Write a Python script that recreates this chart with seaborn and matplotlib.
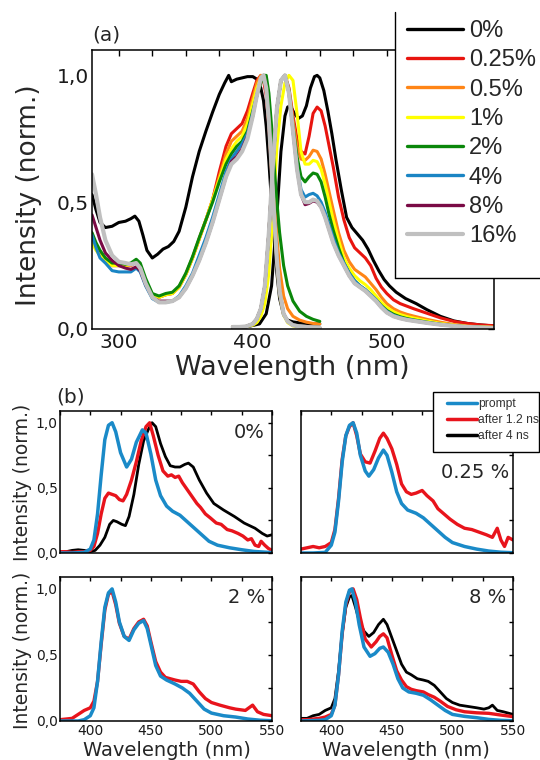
import numpy as np
import pandas as pd
import matplotlib
matplotlib.use("Agg")
import matplotlib.pyplot as plt
import seaborn as sns
from matplotlib.ticker import MultipleLocator, FuncFormatter
from matplotlib.lines import Line2D
from matplotlib.patches import Rectangle

# ------------------------------------------------------------------ data (a)
CONC_LABELS = ["0%", "0.25%", "0.5%", "1%", "2%", "4%", "8%", "16%"]
CONC_COLORS = ["#000000", "#e8150f", "#ff8516", "#ffff00", "#0a870a",
               "#1a85c4", "#7a0a45", "#c0c0c0"]

# excitation spectra (shared grid for doped samples)
EXC_WL = [280, 283, 286, 290, 295, 300, 305, 309, 313, 316, 320, 325, 330, 335,
          340, 345, 350, 355, 360, 365, 370, 375, 380, 384, 388, 392, 396, 400,
          403, 406, 408, 410, 412, 414, 416, 418, 420, 423, 426, 430, 435, 440,
          445, 450]
EXC_RED = [0.35, 0.32, 0.29, 0.27, 0.25, 0.25, 0.25, 0.25, 0.265, 0.25, 0.19, 0.135,
           0.125, 0.135, 0.14, 0.165, 0.215, 0.28, 0.355, 0.43, 0.51, 0.62, 0.72,
           0.77, 0.79, 0.81, 0.86, 0.93, 0.98, 1.0, 0.98, 0.92, 0.80, 0.62, 0.43,
           0.27, 0.15, 0.06, 0.03, 0.015, 0.01, 0.008, 0.006, 0.005]
EXC_ORANGE = [0.35, 0.32, 0.29, 0.27, 0.25, 0.25, 0.25, 0.25, 0.265, 0.25, 0.19,
              0.135, 0.125, 0.135, 0.14, 0.165, 0.215, 0.28, 0.355, 0.43, 0.51,
              0.60, 0.69, 0.74, 0.76, 0.78, 0.83, 0.91, 0.97, 1.0, 0.99, 0.95,
              0.85, 0.70, 0.52, 0.36, 0.24, 0.13, 0.08, 0.05, 0.035, 0.027, 0.022,
              0.02]
EXC_YELLOW = [0.34, 0.31, 0.29, 0.27, 0.25, 0.25, 0.25, 0.255, 0.265, 0.25, 0.19,
              0.135, 0.125, 0.135, 0.14, 0.165, 0.215, 0.28, 0.355, 0.43, 0.51,
              0.59, 0.67, 0.71, 0.74, 0.76, 0.81, 0.89, 0.95, 0.99, 1.0, 0.95,
              0.82, 0.63, 0.43, 0.26, 0.14, 0.055, 0.025, 0.012, 0.008, 0.006,
              0.005, 0.005]
EXC_GREEN = [0.38, 0.34, 0.31, 0.28, 0.26, 0.26, 0.255, 0.26, 0.275, 0.26, 0.20,
             0.14, 0.13, 0.14, 0.145, 0.17, 0.22, 0.285, 0.36, 0.43, 0.50, 0.58,
             0.65, 0.69, 0.72, 0.74, 0.78, 0.86, 0.92, 0.97, 1.0, 1.0, 0.93, 0.80,
             0.64, 0.50, 0.38, 0.25, 0.17, 0.11, 0.07, 0.05, 0.038, 0.03]
EXC_BLUE = [0.37, 0.32, 0.28, 0.26, 0.23, 0.225, 0.225, 0.225, 0.24, 0.225, 0.17,
            0.12, 0.105, 0.105, 0.11, 0.13, 0.17, 0.22, 0.29, 0.36, 0.44, 0.53,
            0.62, 0.67, 0.70, 0.73, 0.77, 0.85, 0.92, 0.99, 1.0, 0.95, 0.82, 0.64,
            0.44, 0.27, 0.15, 0.06, 0.03, 0.015, 0.01, 0.008, 0.006, 0.005]
EXC_PURPLE = [0.45, 0.40, 0.35, 0.30, 0.27, 0.25, 0.24, 0.235, 0.245, 0.23, 0.175,
              0.125, 0.11, 0.11, 0.11, 0.125, 0.16, 0.21, 0.27, 0.34, 0.42, 0.51,
              0.60, 0.66, 0.68, 0.71, 0.76, 0.84, 0.92, 0.99, 1.0, 0.95, 0.82,
              0.64, 0.44, 0.27, 0.15, 0.06, 0.03, 0.015, 0.01, 0.008, 0.006, 0.005]
EXC_GRAY = [0.61, 0.53, 0.44, 0.35, 0.29, 0.265, 0.26, 0.255, 0.26, 0.24, 0.18,
            0.125, 0.105, 0.105, 0.11, 0.125, 0.16, 0.21, 0.27, 0.34, 0.42, 0.51,
            0.60, 0.65, 0.67, 0.70, 0.75, 0.84, 0.92, 0.99, 1.0, 0.95, 0.82, 0.64,
            0.44, 0.27, 0.15, 0.06, 0.03, 0.015, 0.01, 0.008, 0.006, 0.005]

EXC_BLK_WL = [280, 283, 286, 290, 295, 300, 305, 309, 312, 315, 318, 321, 325, 329,
              333, 337, 341, 345, 350, 355, 360, 365, 370, 375, 379, 382, 384, 388,
              392, 396, 400, 403, 406, 408, 410, 412, 414, 416, 418, 420, 423, 426,
              430, 435, 440, 445, 450]
EXC_BLACK = [0.53, 0.47, 0.42, 0.40, 0.405, 0.42, 0.425, 0.435, 0.445, 0.425, 0.37,
             0.31, 0.28, 0.295, 0.315, 0.325, 0.345, 0.385, 0.48, 0.60, 0.70, 0.78,
             0.855, 0.925, 0.97, 1.0, 0.975, 0.985, 0.99, 0.995, 0.995, 0.985,
             0.95, 0.90, 0.80, 0.66, 0.50, 0.35, 0.22, 0.12, 0.055, 0.035, 0.028,
             0.024, 0.022, 0.02, 0.02]

# emission spectra
EMI_WL = [385, 390, 395, 400, 403, 406, 409, 412, 415, 418, 421, 424, 427, 430,
          433, 436, 439, 442, 445, 448, 451, 454, 457, 460, 464, 468, 472, 476,
          480, 484, 488, 492, 496, 500, 505, 510, 515, 520, 530, 540, 550, 560,
          570, 580]
EMI_RED = [0.008, 0.008, 0.01, 0.02, 0.04, 0.08, 0.17, 0.38, 0.65, 0.87, 0.98, 1.0,
           0.95, 0.84, 0.75, 0.70, 0.69, 0.76, 0.85, 0.875, 0.86, 0.80, 0.72, 0.64,
           0.52, 0.43, 0.36, 0.32, 0.30, 0.28, 0.25, 0.20, 0.165, 0.14, 0.115,
           0.10, 0.09, 0.08, 0.062, 0.044, 0.03, 0.022, 0.016, 0.013]
EMI_ORANGE = [0.008, 0.008, 0.01, 0.02, 0.04, 0.08, 0.17, 0.38, 0.65, 0.87, 0.98,
              1.0, 0.94, 0.82, 0.72, 0.67, 0.665, 0.68, 0.705, 0.70, 0.67, 0.61,
              0.54, 0.47, 0.38, 0.31, 0.265, 0.235, 0.22, 0.205, 0.18, 0.155, 0.125,
              0.10, 0.08, 0.067, 0.058, 0.051, 0.038, 0.027, 0.018, 0.012, 0.009,
              0.007]
EMI_YELLOW = [0.008, 0.008, 0.01, 0.015, 0.025, 0.05, 0.10, 0.22, 0.45, 0.72, 0.88,
              0.97, 1.0, 0.98, 0.85, 0.70, 0.65, 0.65, 0.665, 0.66, 0.63, 0.57,
              0.50, 0.43, 0.35, 0.28, 0.24, 0.21, 0.19, 0.175, 0.155, 0.13, 0.105,
              0.085, 0.068, 0.057, 0.049, 0.043, 0.032, 0.022, 0.015, 0.01, 0.008,
              0.006]
EMI_GREEN = [0.008, 0.008, 0.01, 0.02, 0.04, 0.08, 0.17, 0.38, 0.65, 0.87, 0.98,
             1.0, 0.94, 0.80, 0.68, 0.60, 0.58, 0.60, 0.615, 0.61, 0.58, 0.52, 0.45,
             0.39, 0.32, 0.26, 0.22, 0.19, 0.17, 0.155, 0.135, 0.115, 0.092, 0.073,
             0.058, 0.048, 0.041, 0.036, 0.027, 0.019, 0.013, 0.009, 0.007, 0.005]
EMI_BLUE = [0.008, 0.008, 0.01, 0.02, 0.04, 0.08, 0.17, 0.38, 0.65, 0.87, 0.98,
            1.0, 0.93, 0.78, 0.64, 0.55, 0.52, 0.53, 0.535, 0.525, 0.50, 0.46, 0.41,
            0.36, 0.30, 0.26, 0.22, 0.19, 0.17, 0.155, 0.135, 0.115, 0.09, 0.07,
            0.054, 0.045, 0.038, 0.034, 0.025, 0.018, 0.012, 0.008, 0.006, 0.004]
EMI_PURPLE = [0.008, 0.008, 0.01, 0.02, 0.04, 0.08, 0.17, 0.38, 0.65, 0.87, 0.98,
              1.0, 0.93, 0.78, 0.63, 0.53, 0.49, 0.495, 0.505, 0.50, 0.48, 0.44,
              0.39, 0.34, 0.29, 0.25, 0.21, 0.18, 0.165, 0.15, 0.13, 0.11, 0.085,
              0.065, 0.05, 0.042, 0.036, 0.032, 0.024, 0.017, 0.012, 0.008, 0.006,
              0.004]
EMI_GRAY = [0.008, 0.008, 0.01, 0.02, 0.04, 0.08, 0.17, 0.38, 0.65, 0.87, 0.98,
            1.0, 0.93, 0.78, 0.63, 0.53, 0.50, 0.50, 0.51, 0.505, 0.48, 0.44, 0.39,
            0.34, 0.29, 0.25, 0.21, 0.18, 0.165, 0.15, 0.13, 0.11, 0.085, 0.065,
            0.05, 0.042, 0.036, 0.032, 0.024, 0.017, 0.012, 0.008, 0.006, 0.004]

EMI_BLK_WL = [385, 395, 405, 410, 414, 418, 421, 424, 426, 428, 431, 434, 437, 440,
              443, 446, 448, 450, 453, 456, 459, 462, 466, 470, 474, 478, 482, 486,
              490, 494, 498, 502, 507, 514, 522, 530, 540, 550, 560, 570, 580]
EMI_BLACK = [0.005, 0.008, 0.02, 0.06, 0.17, 0.45, 0.70, 0.84, 0.875, 0.88, 0.85,
             0.83, 0.84, 0.88, 0.95, 0.995, 1.0, 0.99, 0.94, 0.86, 0.77, 0.67, 0.55,
             0.44, 0.40, 0.375, 0.35, 0.315, 0.27, 0.23, 0.195, 0.17, 0.145, 0.12,
             0.10, 0.076, 0.05, 0.032, 0.022, 0.016, 0.012]

EXC_SERIES = [(EXC_BLK_WL, EXC_BLACK), (EXC_WL, EXC_RED), (EXC_WL, EXC_ORANGE),
              (EXC_WL, EXC_YELLOW), (EXC_WL, EXC_GREEN), (EXC_WL, EXC_BLUE),
              (EXC_WL, EXC_PURPLE), (EXC_WL, EXC_GRAY)]
EMI_SERIES = [(EMI_BLK_WL, EMI_BLACK), (EMI_WL, EMI_RED), (EMI_WL, EMI_ORANGE),
              (EMI_WL, EMI_YELLOW), (EMI_WL, EMI_GREEN), (EMI_WL, EMI_BLUE),
              (EMI_WL, EMI_PURPLE), (EMI_WL, EMI_GRAY)]

# ------------------------------------------------------------------ data (b)
B_LABELS = ["prompt", "after 1.2 ns", "after 4 ns"]
B_COLORS = ["#1a8ac8", "#e8141c", "#000000"]

# 0 %
P0_BLUE_WL = [375, 385, 395, 400, 403, 406, 409, 412, 415, 418, 421, 425, 430, 434,
              438, 443, 446, 450, 454, 458, 463, 468, 474, 480, 486, 492, 498, 505,
              515, 525, 535, 550]
P0_BLUE = [0.0, 0.0, 0.005, 0.03, 0.1, 0.3, 0.6, 0.87, 0.98, 1.0, 0.93, 0.77, 0.66,
           0.72, 0.85, 0.945, 0.92, 0.76, 0.56, 0.44, 0.36, 0.32, 0.29, 0.24, 0.19,
           0.14, 0.09, 0.06, 0.04, 0.025, 0.012, 0.003]
P0_RED_WL = [375, 380, 385, 390, 395, 400, 403, 406, 409, 412, 415, 418, 421, 424,
             427, 430, 434, 438, 442, 446, 449, 452, 456, 460, 464, 467, 470, 473,
             476, 479, 482, 485, 488, 491, 495, 499, 504, 508, 513, 517, 522, 526,
             530, 533, 536, 539, 541, 544, 547, 550]
P0_RED = [0.01, 0.01, 0.005, 0.01, 0.01, 0.02, 0.05, 0.15, 0.3, 0.42, 0.46, 0.45,
          0.44, 0.41, 0.40, 0.45, 0.56, 0.70, 0.86, 0.97, 1.0, 0.9, 0.75, 0.63, 0.59,
          0.60, 0.58, 0.59, 0.54, 0.50, 0.46, 0.42, 0.38, 0.35, 0.30, 0.27, 0.23,
          0.22, 0.18, 0.17, 0.15, 0.13, 0.10, 0.11, 0.06, 0.05, 0.09, 0.06, 0.035,
          0.02]
P0_BLACK_WL = [375, 380, 385, 390, 395, 400, 404, 408, 412, 416, 419, 422, 426, 429,
               432, 436, 440, 444, 448, 451, 454, 458, 462, 466, 470, 474, 478, 481,
               485, 490, 496, 502, 510, 519, 527, 536, 542, 546, 550]
P0_BLACK = [0.0, 0.01, 0.02, 0.025, 0.02, 0.01, 0.02, 0.06, 0.12, 0.22, 0.25, 0.24,
            0.22, 0.21, 0.28, 0.45, 0.68, 0.86, 0.95, 1.0, 0.97, 0.84, 0.74, 0.67,
            0.66, 0.66, 0.68, 0.69, 0.66, 0.56, 0.46, 0.38, 0.33, 0.28, 0.23, 0.19,
            0.15, 0.13, 0.14]

# 0.25 %
P025_BLUE_WL = [375, 385, 395, 400, 403, 406, 409, 412, 415, 418, 421, 424, 428,
                431, 435, 439, 443, 446, 450, 454, 458, 463, 470, 476, 482, 488, 494,
                500, 510, 520, 530, 540, 550]
P025_BLUE = [0.0, 0.0, 0.005, 0.06, 0.16, 0.4, 0.7, 0.9, 0.98, 1.0, 0.92, 0.75,
             0.63, 0.59, 0.64, 0.73, 0.79, 0.75, 0.62, 0.47, 0.38, 0.33, 0.305, 0.27,
             0.22, 0.17, 0.12, 0.08, 0.05, 0.03, 0.015, 0.006, 0.002]
P025_RED_WL = [375, 380, 385, 390, 395, 400, 403, 406, 409, 412, 415, 418, 421, 424,
               428, 432, 436, 440, 443, 446, 450, 454, 458, 462, 466, 470, 475, 479,
               484, 488, 493, 498, 504, 510, 516, 522, 528, 533, 537, 540, 543, 546,
               550]
P025_RED = [0.03, 0.04, 0.05, 0.04, 0.05, 0.08, 0.18, 0.42, 0.72, 0.9, 0.97, 1.0,
            0.9, 0.76, 0.70, 0.69, 0.78, 0.88, 0.92, 0.88, 0.80, 0.68, 0.53, 0.47,
            0.45, 0.46, 0.48, 0.44, 0.40, 0.34, 0.30, 0.26, 0.22, 0.19, 0.18, 0.16,
            0.14, 0.12, 0.19, 0.1, 0.05, 0.12, 0.1]

# 2 %
P2_BLUE_WL = [375, 390, 395, 400, 403, 406, 409, 412, 415, 418, 421, 424, 428, 432,
              436, 440, 444, 447, 450, 454, 458, 463, 470, 476, 482, 488, 494, 500,
              510, 520, 530, 540, 550]
P2_BLUE = [0.0, 0.0, 0.01, 0.04, 0.1, 0.3, 0.6, 0.86, 0.97, 1.0, 0.9, 0.75, 0.64,
           0.61, 0.69, 0.74, 0.76, 0.7, 0.58, 0.42, 0.34, 0.31, 0.28, 0.25, 0.21,
           0.15, 0.09, 0.06, 0.04, 0.03, 0.015, 0.006, 0.002]
P2_RED_WL = [375, 380, 385, 390, 395, 400, 403, 406, 409, 412, 415, 418, 421, 424,
             428, 432, 436, 440, 444, 447, 450, 454, 458, 462, 466, 470, 475, 480,
             485, 490, 495, 500, 507, 515, 520, 528, 534, 538, 543, 550]
P2_RED = [0.01, 0.015, 0.02, 0.05, 0.08, 0.1, 0.15, 0.3, 0.58, 0.84, 0.96, 0.98,
          0.88, 0.74, 0.64, 0.62, 0.7, 0.75, 0.77, 0.72, 0.6, 0.45, 0.37, 0.33, 0.32,
          0.31, 0.30, 0.30, 0.28, 0.22, 0.17, 0.14, 0.12, 0.1, 0.09, 0.08, 0.12,
          0.07, 0.05, 0.04]

# 8 %
P8_BLUE_WL = [375, 390, 395, 400, 403, 406, 409, 412, 415, 417, 420, 423, 427, 432,
              436, 440, 443, 447, 451, 455, 459, 464, 470, 476, 482, 488, 494, 500,
              510, 520, 530, 540, 550]
P8_BLUE = [0.0, 0.005, 0.01, 0.04, 0.12, 0.35, 0.68, 0.9, 0.99, 1.0, 0.9, 0.73,
           0.56, 0.49, 0.51, 0.55, 0.56, 0.52, 0.43, 0.32, 0.25, 0.22, 0.21, 0.195,
           0.16, 0.12, 0.08, 0.05, 0.035, 0.025, 0.012, 0.005, 0.002]
P8_RED_WL = [375, 380, 385, 390, 395, 400, 403, 406, 409, 412, 415, 418, 421, 424,
             428, 433, 437, 440, 443, 446, 450, 454, 458, 462, 466, 470, 476, 480,
             485, 490, 496, 503, 510, 520, 530, 540, 550]
P8_RED = [0.01, 0.01, 0.015, 0.02, 0.03, 0.05, 0.12, 0.35, 0.66, 0.88, 0.98, 1.0,
          0.92, 0.78, 0.62, 0.56, 0.6, 0.64, 0.66, 0.63, 0.5, 0.38, 0.31, 0.26, 0.24,
          0.23, 0.22, 0.2, 0.18, 0.15, 0.11, 0.085, 0.07, 0.062, 0.058, 0.045, 0.033]
P8_BLACK_WL = [375, 380, 385, 390, 395, 400, 403, 406, 409, 412, 415, 417, 420, 423,
               427, 431, 435, 439, 443, 446, 450, 454, 458, 462, 466, 471, 476, 480,
               485, 490, 495, 500, 506, 513, 520, 526, 530, 533, 537, 542, 546, 550]
P8_BLACK = [0.02, 0.02, 0.04, 0.05, 0.08, 0.1, 0.17, 0.38, 0.66, 0.86, 0.94, 0.95,
            0.86, 0.76, 0.68, 0.64, 0.67, 0.73, 0.77, 0.73, 0.63, 0.53, 0.43, 0.37,
            0.35, 0.32, 0.31, 0.3, 0.27, 0.22, 0.17, 0.14, 0.12, 0.11, 0.1, 0.09,
            0.1, 0.12, 0.08, 0.07, 0.06, 0.05]

PANELS_B = [
    ("0%", [(P0_BLACK_WL, P0_BLACK, 2), (P0_RED_WL, P0_RED, 1), (P0_BLUE_WL, P0_BLUE, 0)]),
    ("0.25 %", [(P025_RED_WL, P025_RED, 1), (P025_BLUE_WL, P025_BLUE, 0)]),
    ("2 %", [(P2_RED_WL, P2_RED, 1), (P2_BLUE_WL, P2_BLUE, 0)]),
    ("8 %", [(P8_BLACK_WL, P8_BLACK, 2), (P8_RED_WL, P8_RED, 1), (P8_BLUE_WL, P8_BLUE, 0)]),
]

# ------------------------------------------------------------------ style
sns.set_theme(style="white")
plt.rcParams['font.family'] = ['DejaVu Sans']
W, H = 540, 760
fig = plt.figure(figsize=(5.4, 7.6), dpi=100)


def fx(px):
    return px / W


def fy(py):
    return 1 - py / H


comma = FuncFormatter(lambda v, p: f"{v:.1f}".replace('.', ','))


def style_axes(ax, lab_size, tick_len):
    for s in ax.spines.values():
        s.set_color("black")
        s.set_linewidth(1.1)
    ax.tick_params(which='both', direction='in', top=True, right=True,
                   length=tick_len, width=1.0, color='black',
                   labelsize=lab_size, labelcolor='#1a1a1a')
    ax.yaxis.set_major_formatter(comma)
    ax.set_xlabel("")
    ax.set_ylabel("")


# ------------------------------------------------------------------ panel (a)
ax_a = fig.add_axes([fx(92), fy(329), fx(494) - fx(92), fy(50) - fy(329)])
for i in range(len(CONC_LABELS)):
    rows = []
    for seg, (wl, val) in enumerate([EXC_SERIES[i], EMI_SERIES[i]]):
        rows.append(pd.DataFrame({"wl": wl, "I": val, "seg": seg}))
    df = pd.concat(rows, ignore_index=True)
    lw = 3.0 if i == 7 else 2.2
    sns.lineplot(data=df, x="wl", y="I", units="seg", estimator=None, sort=False,
                 color=CONC_COLORS[i], lw=lw, ax=ax_a, legend=False)

ax_a.set_xlim(280, 580)
ax_a.set_ylim(0, 1.1)
ax_a.xaxis.set_major_locator(MultipleLocator(100))
ax_a.xaxis.set_minor_locator(MultipleLocator(25))
ax_a.yaxis.set_major_locator(MultipleLocator(0.5))
ax_a.yaxis.set_minor_locator(MultipleLocator(0.25))
style_axes(ax_a, 14.5, 4.3)
ax_a.tick_params(axis='x', pad=3)
ax_a.tick_params(axis='y', pad=2)

fig.text(fx(292), fy(375), "Wavelength (nm)", ha='center', va='baseline', fontsize=19.5)
fig.text(fx(29), fy(195), "Intensity (norm.)", ha='center', va='center',
         rotation=90, fontsize=19)
fig.text(fx(106), fy(35), "(a)", ha='center', va='center', fontsize=14.5)

# legend box of (a)
fig.add_artist(Rectangle((fx(395), fy(278)), 0.5, fy(12) - fy(278),
                         transform=fig.transFigure, facecolor='white',
                         edgecolor='none', zorder=3))
fig.add_artist(Line2D([fx(395), fx(395)], [fy(12), fy(278)], color='black', lw=1.0,
                      transform=fig.transFigure, zorder=4))
fig.add_artist(Line2D([fx(395), 1.0], [fy(278), fy(278)], color='black', lw=1.0,
                      transform=fig.transFigure, zorder=4))
handles_a = [Line2D([], [], color=c, lw=(3.0 if i == 7 else 2.4))
             for i, c in enumerate(CONC_COLORS)]
leg_a = fig.legend(handles_a, CONC_LABELS, loc='upper left',
                   bbox_to_anchor=(fx(407), fy(20)), bbox_transform=fig.transFigure,
                   frameon=False, borderpad=0, borderaxespad=0,
                   handlelength=2.37, handletextpad=0.25, labelspacing=0.31,
                   prop={'family': 'Liberation Sans', 'size': 17})
leg_a.set_zorder(5)

# ------------------------------------------------------------------ panel (b)
boxes = [(60, 411, 272, 553), (301, 411, 513, 553), (60, 577, 272, 721),
         (301, 577, 513, 721)]
ann_pos = [(0.967, 0.852), (0.981, 0.57), (0.967, 0.861), (0.967, 0.861)]
for k, ((x0, y0, x1, y1), (title, curves)) in enumerate(zip(boxes, PANELS_B)):
    ax = fig.add_axes([fx(x0), fy(y1), fx(x1) - fx(x0), fy(y0) - fy(y1)])
    for wl, val, ci in curves:
        df = pd.DataFrame({"wl": wl, "I": val})
        lw = 2.5 if ci == 0 else (2.4 if ci == 1 else 2.0)
        sns.lineplot(data=df, x="wl", y="I", estimator=None, sort=False,
                     color=B_COLORS[ci], lw=lw, ax=ax, legend=False)
    ax.set_xlim(375, 550)
    ax.set_ylim(0, 1.09)
    ax.xaxis.set_major_locator(MultipleLocator(50))
    ax.xaxis.set_minor_locator(MultipleLocator(25))
    ax.yaxis.set_major_locator(MultipleLocator(0.5))
    ax.yaxis.set_minor_locator(MultipleLocator(0.25))
    style_axes(ax, 10, 3.2)
    ax.tick_params(axis='x', pad=2)
    ax.tick_params(axis='y', pad=1.5)
    if k in (1, 3):
        ax.tick_params(labelleft=False)
    if k in (0, 1):
        ax.tick_params(labelbottom=False)
    ax.text(ann_pos[k][0], ann_pos[k][1], title, transform=ax.transAxes,
            ha='right', va='center', fontsize=14)

fig.text(fx(71), fy(397), "(b)", ha='center', va='center', fontsize=14.5)
fig.text(fx(23), fy(482), "Intensity (norm.)", ha='center', va='center',
         rotation=90, fontsize=13.5)
fig.text(fx(23), fy(650), "Intensity (norm.)", ha='center', va='center',
         rotation=90, fontsize=13.5)
fig.text(fx(167), fy(756), "Wavelength (nm)", ha='center', va='baseline', fontsize=14)
fig.text(fx(406), fy(756), "Wavelength (nm)", ha='center', va='baseline', fontsize=14)

# legend of (b)
fig.add_artist(Rectangle((fx(433), fy(452)), fx(539) - fx(433), fy(392) - fy(452),
                         transform=fig.transFigure, facecolor='white',
                         edgecolor='black', lw=1.0, zorder=3))
handles_b = [Line2D([], [], color=c, lw=2.5) for c in B_COLORS]
leg_b = fig.legend(handles_b, B_LABELS, loc='upper left',
                   bbox_to_anchor=(fx(447), fy(398)), bbox_transform=fig.transFigure,
                   frameon=False, borderpad=0, borderaxespad=0,
                   handlelength=2.48, handletextpad=0.1, labelspacing=0.34,
                   prop={'family': 'Liberation Sans', 'size': 8.7},
                   labelcolor='#333333')
leg_b.set_zorder(5)

fig.savefig("out.png", dpi=100)
